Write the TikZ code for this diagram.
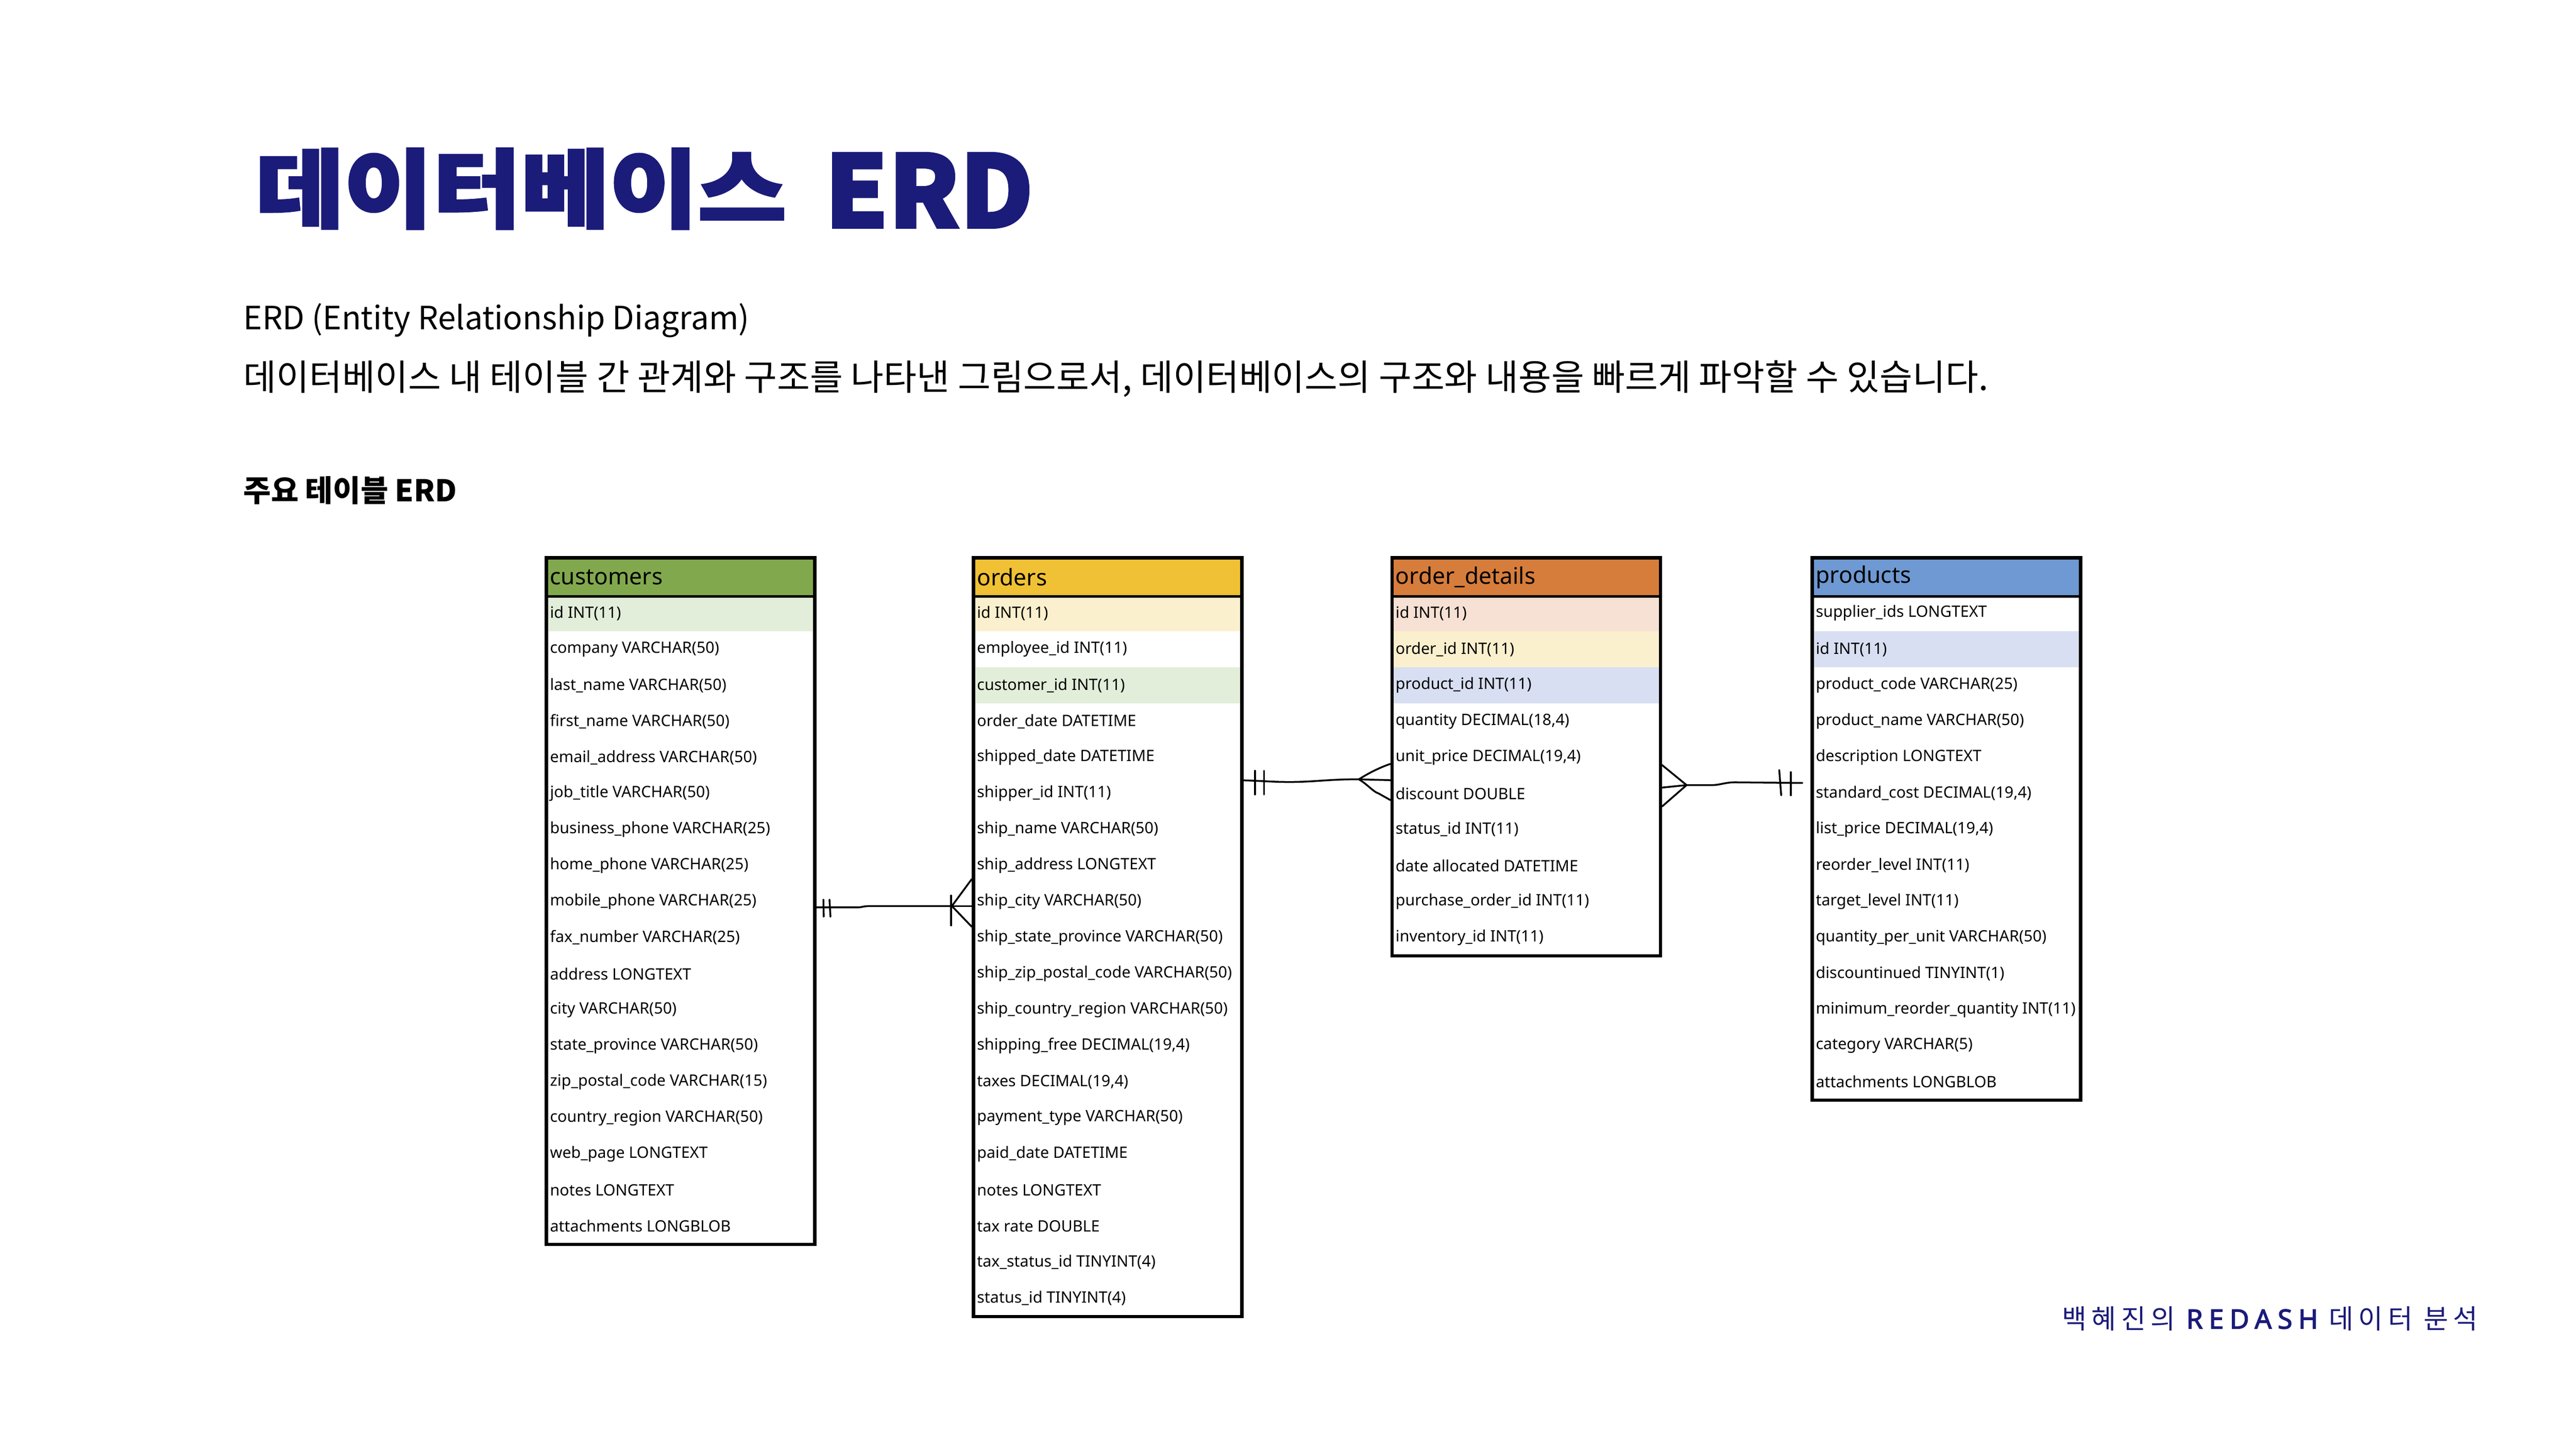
\documentclass[tikz,border=0pt]{standalone}
\usepackage{fontspec}
\usepackage{graphicx}
\usetikzlibrary{fit}
\setmainfont{Noto Sans}
\newfontfamily\kr{Noto Sans CJK KR}
\newfontfamily\krtitle{Noto Sans CJK KR}[BoldFeatures={FakeBold=2.5}]
\newfontfamily\krfoot{Noto Sans CJK KR}[LetterSpace=18]
\newfontfamily\redash{Noto Sans}[LetterSpace=22, UprightFeatures={FakeBold=2.5}, BoldFeatures={FakeBold=2.5}]
\newfontfamily\tabfont{Noto Sans}
\definecolor{navy}{RGB}{27,27,122}
\definecolor{hgreen}{RGB}{130,168,78}
\definecolor{hyellow}{RGB}{240,193,52}
\definecolor{horange}{RGB}{214,125,60}
\definecolor{hblue}{RGB}{110,153,210}
\definecolor{lgreen}{RGB}{227,238,218}
\definecolor{lyellow}{RGB}{251,240,206}
\definecolor{lorange}{RGB}{246,225,212}
\definecolor{lblue}{RGB}{217,223,242}
\tikzset{
  hdrbox/.style={minimum width=163pt, minimum height=23pt, text width=159pt, align=left,
    inner xsep=2pt, inner ysep=0pt, font=\tabfont\fontsize{13.9}{14}\selectfont},
  rowbox/.style={minimum width=163pt, minimum height=21.94pt,
    inner xsep=2pt, inner ysep=0pt, font=\tabfont\fontsize{9.55}{10}\selectfont},
  frame/.style={draw=black, line width=2pt, inner sep=0pt},
  conn/.style={draw=black, line width=1.1pt, line cap=round, line join=round},
}
\newcommand\erdtab[6]{%
  \node[hdrbox, fill=#3] (#1-h) at ({#2+81.5},351.2) {#4};
  \foreach \rt/\rc [count=\ri] in {#5} {
    \node[rowbox, fill=\rc] (#1-\ri) at ({#2+81.5},{362.2+(\ri-0.5)*21.94}) {\makebox[159pt][l]{\rt}};
  }
  \node[frame, fit=(#1-h)(#1-#6)] (#1) {};
  \draw[line width=1.6pt] (#1-h.south west) -- (#1-h.south east);
}
\begin{document}
\begin{tikzpicture}[x=1pt, y=-1pt]
\useasboundingbox (0,0) rectangle (1568,881.7);
\fill[white] (0,0) rectangle (1568,881.7);

% title
\node[anchor=north west, inner sep=0pt, text=navy] (title) at (155.4,90.2)
  {\resizebox*{323pt}{49pt}{\krtitle\bfseries 데이터베이스}};
\node[anchor=north west, inner sep=0pt, text=navy] (titleerd) at (501.8,93)
  {\resizebox*{127pt}{45.3pt}{\krtitle\bfseries ERD}};

% subtitle
\node[anchor=west, inner sep=0pt] (sub1) at (148,195)
  {\resizebox{308pt}{!}{\kr\fontsize{21}{24}\selectfont ERD (Entity Relationship Diagram)}};
\node[anchor=west, inner sep=0pt] (sub2) at (148,230.5)
  {\resizebox{1062pt}{!}{\kr\fontsize{21}{24}\selectfont 데이터베이스 내 테이블 간 관계와 구조를 나타낸 그림으로서, 데이터베이스의 구조와 내용을 빠르게 파악할 수 있습니다.}};
\node[anchor=west, inner sep=0pt] (sec) at (148,298.5)
  {\resizebox{130pt}{!}{\kr\bfseries\fontsize{18}{20}\selectfont 주요 테이블 ERD}};

% footer
\node[anchor=west, inner sep=0pt, text=navy] (footer) at (1255,802.5)
  {\resizebox{253pt}{!}{\fontsize{14}{16}\selectfont\krfoot 백혜진의 {\redash\bfseries REDASH} 데이터 분석}};

% tables
\erdtab{cust}{332.8}{hgreen}{customers}{%
 id INT(11)/lgreen, company VARCHAR(50)/white, last\_name VARCHAR(50)/white,
 first\_name VARCHAR(50)/white, email\_address VARCHAR(50)/white, job\_title VARCHAR(50)/white,
 business\_phone VARCHAR(25)/white, home\_phone VARCHAR(25)/white, mobile\_phone VARCHAR(25)/white,
 fax\_number VARCHAR(25)/white, address LONGTEXT/white, city VARCHAR(50)/white,
 state\_province VARCHAR(50)/white, zip\_postal\_code VARCHAR(15)/white, country\_region VARCHAR(50)/white,
 web\_page LONGTEXT/white, notes LONGTEXT/white, attachments LONGBLOB/white}{18}

\erdtab{ord}{592.7}{hyellow}{orders}{%
 id INT(11)/lyellow, employee\_id INT(11)/white, customer\_id INT(11)/lgreen,
 order\_date DATETIME/white, shipped\_date DATETIME/white, shipper\_id INT(11)/white,
 ship\_name VARCHAR(50)/white, ship\_address LONGTEXT/white, ship\_city VARCHAR(50)/white,
 ship\_state\_province VARCHAR(50)/white, ship\_zip\_postal\_code VARCHAR(50)/white,
 ship\_country\_region VARCHAR(50)/white, {shipping\_free DECIMAL(19,4)}/white,
 {taxes DECIMAL(19,4)}/white, payment\_type VARCHAR(50)/white, paid\_date DATETIME/white,
 notes LONGTEXT/white, tax rate DOUBLE/white, tax\_status\_id TINYINT(4)/white,
 status\_id TINYINT(4)/white}{20}

\erdtab{od}{847.5}{horange}{order\_details}{%
 id INT(11)/lorange, order\_id INT(11)/lyellow, product\_id INT(11)/lblue,
 {quantity DECIMAL(18,4)}/white, {unit\_price DECIMAL(19,4)}/white, discount DOUBLE/white,
 status\_id INT(11)/white, date allocated DATETIME/white, purchase\_order\_id INT(11)/white,
 inventory\_id INT(11)/white}{10}

\erdtab{prod}{1103.3}{hblue}{products}{%
 supplier\_ids LONGTEXT/white, id INT(11)/lblue, product\_code VARCHAR(25)/white,
 product\_name VARCHAR(50)/white, description LONGTEXT/white, {standard\_cost DECIMAL(19,4)}/white,
 {list\_price DECIMAL(19,4)}/white, reorder\_level INT(11)/white, target\_level INT(11)/white,
 quantity\_per\_unit VARCHAR(50)/white, discountinued TINYINT(1)/white,
 minimum\_reorder\_quantity INT(11)/white, category VARCHAR(5)/white, attachments LONGBLOB/white}{14}

% connector customers -- orders (one to many)
\coordinate (c1s) at (cust.east |- 0,552.2);
\coordinate (c1m) at (579.4,551.4);
\draw[conn] (c1s) -- ++(25,0) .. controls ++(3,0) and (525,551.4) .. (530,551.4) -- (c1m);
\draw[conn] (c1m) -- (ord.west |- 0,535);
\draw[conn] (c1m) -- (ord.west |- 0,551.4);
\draw[conn] (c1m) -- (ord.west |- 0,564);
\draw[conn] (578.9,545) -- (578.9,563.2);
\draw[conn] (501.2,547.5) -- (501.4,557.9);
\draw[conn] (504.9,547.5) -- (505.5,557.9);

% connector orders -- order_details
\coordinate (c2s) at (ord.east |- 0,474.9);
\coordinate (c2m) at (827.1,474.3);
\draw[conn] (c2s) .. controls (770,475.3) and (775,475.9) .. (785,475.9)
  .. controls (800,475.9) and (810,474.1) .. (c2m);
\draw[conn] (c2m) .. controls (833,470.5) and (840,467) .. (od.west |- 0,464.9);
\draw[conn] (c2m) -- (od.west |- 0,474.8);
\draw[conn] (c2m) .. controls (832,477) and (836,482) .. (839,482.8) -- (od.west |- 0,486.9);
\draw[conn] (763.9,469.1) -- (763.9,483.5);
\draw[conn] (769.4,469.1) -- (769.4,483.5);

% connector order_details -- products
\coordinate (c3m) at (1026.6,477.8);
\coordinate (c3e) at ([xshift=-5pt]prod.west |- 0,476.5);
\draw[conn] (od.east |- 0,465.6) -- (c3m);
\draw[conn] (od.east |- 0,479.3) -- (c3m);
\draw[conn] (od.east |- 0,490.8) -- (c3m);
\draw[conn] (c3m) -- (1041.9,477.8) .. controls (1047,477.8) and (1050,476.1) .. (1056,476.1) -- (c3e);
\draw[conn] (1083,468.6) -- (1084.2,484);
\draw[conn] (1090,469.9) -- (1090,484);
\end{tikzpicture}
\end{document}
